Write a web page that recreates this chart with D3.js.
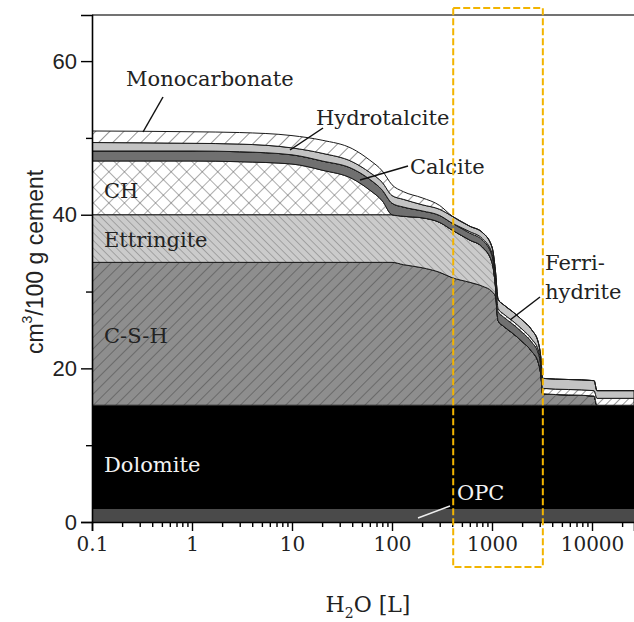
<!DOCTYPE html>
<html><head><meta charset="utf-8">
<script src="https://cdn.jsdelivr.net/npm/d3@7"></script>
<style>body{margin:0;background:#fff}svg{display:block}</style>
</head><body><svg id="c" width="634" height="622"></svg>
<script>
// ---- data (cm3 / 100 g cement, per phase, vs. H2O [L]) ----
const water        = [0.1, 1, 3, 10, 20, 40, 60, 80, 100, 130, 200, 300, 400, 600, 800, 1000, 1080, 1150, 1300, 1600, 2000, 2500, 2900, 3100, 3200, 10500, 11200, 26300];
const opc          = [1.7,1.7,1.7,1.7,1.7,1.7,1.7,1.7,1.7,1.7,1.7,1.7,1.7,1.7,1.7,1.7,1.7,1.7,1.7,1.7,1.7,1.7,1.7,1.7,1.7,1.7,1.7,1.7];
const dolomite     = [13.5,13.5,13.5,13.5,13.5,13.5,13.5,13.5,13.5,13.5,13.5,13.5,13.5,13.5,13.5,13.5,13.5,13.5,13.5,13.5,13.5,13.5,13.5,13.5,13.5,13.5,13.5,13.5];
const csh          = [18.6,18.6,18.6,18.6,18.6,18.6,18.6,18.6,18.6,18.3,17.9,17.3,16.6,16.0,15.5,14.8,14.2,11.0,10.3,9.4,8.3,7.0,5.6,3.6,1.5,1.2,0,0];
const ettringite   = [6.2,6.2,6.2,6.2,6.2,6.2,6.2,6.2,6.2,6.3,6.5,6.5,6.2,5.5,5.1,3.8,1.4,0,0,0,0,0,0,0,0,0,0,0];
const ch           = [7.0,7.0,6.9,6.6,5.8,4.7,3.2,1.8,0,0,0,0,0,0,0,0,0,0,0,0,0,0,0,0,0,0,0,0];
const calcite      = [1.3,1.3,1.3,1.2,1.2,1.3,1.4,1.4,1.5,1.2,0.9,0.9,0.9,0.9,0.9,0.9,0.9,1.2,1.2,1.2,1.2,1.2,1.2,1.0,0,0,0,0];
const ferrihydrite = [0,0,0,0,0,0,0,0,0,0,0,0,0,0.2,0.2,0.3,0.3,0.4,0.4,0.4,0.4,0.4,0.4,0.4,0.7,0.7,0.9,0.9];
const hydrotalcite = [1.1,1.0,1.0,0.9,1.0,0.9,0.9,1.0,1.0,1.0,0.8,0.8,0.9,0.7,0.8,0.8,0.8,1.2,1.2,1.2,1.2,1.2,1.0,0.8,1.3,1.3,1.0,1.0];
const monocarb     = [1.5,1.5,1.5,1.6,1.7,1.7,1.6,1.5,1.4,1.0,0.9,0.5,0,0,0,0,0,0,0,0,0,0,0,0,0,0,0,0];
const phases = ["OPC","Dolomite","C-S-H","Ettringite","CH","Calcite","Ferrihydrite","Hydrotalcite","Monocarbonate"];
const xTicks = [0.1, 1, 10, 100, 1000, 10000];
const xTickLabels = ["0.1","1","10","100","1000","10000"];
const yTicks = [0, 20, 40, 60];
const yMinorTicks = [10, 30, 50];

const series = {"OPC":opc,"Dolomite":dolomite,"C-S-H":csh,"Ettringite":ettringite,"CH":ch,
  "Calcite":calcite,"Ferrihydrite":ferrihydrite,"Hydrotalcite":hydrotalcite,"Monocarbonate":monocarb};
const table = water.map((L,i)=>{const o={L}; phases.forEach(p=>o[p]=series[p][i]); return o;});

const svg = d3.select("#c");
const X0=92, X1=634, Y0=522, Y1=15;
const x = d3.scaleLog().domain([0.1, 26300]).range([X0, X1]);
const y = d3.scaleLinear().domain([0, 66]).range([Y0, Y1]);

const defs = svg.append("defs");
function hatch(id, bg, color, spacing, angle, w){
  const p = defs.append("pattern").attr("id",id).attr("patternUnits","userSpaceOnUse")
    .attr("width",spacing).attr("height",spacing).attr("patternTransform",`rotate(${angle})`);
  p.append("rect").attr("width",spacing).attr("height",spacing).attr("fill",bg);
  p.append("line").attr("x1",0).attr("y1",0).attr("x2",0).attr("y2",spacing).attr("stroke",color).attr("stroke-width",w);
}
hatch("pCSH","#8e8e8e","#4c4c4c",8,45,1.1);
hatch("pEtt","#cbcbcb","#767676",5.5,-45,1);
hatch("pMono","#ffffff","#2a2a2a",10,45,1);
hatch("pFerri","#ffffff","#555555",6,45,1.2);
// crosshatch for CH
(function(){
  const s=11;
  const p = defs.append("pattern").attr("id","pCH").attr("patternUnits","userSpaceOnUse")
    .attr("width",s).attr("height",s).attr("patternTransform","rotate(45)");
  p.append("rect").attr("width",s).attr("height",s).attr("fill","#fff");
  p.append("line").attr("x1",0).attr("y1",0).attr("x2",0).attr("y2",s).attr("stroke","#5a5a5a").attr("stroke-width",1);
  p.append("line").attr("x1",0).attr("y1",0).attr("x2",s).attr("y2",0).attr("stroke","#5a5a5a").attr("stroke-width",1);
})();
const fills = {"OPC":"#4a4a4a","Dolomite":"#000","C-S-H":"url(#pCSH)","Ettringite":"url(#pEtt)","CH":"url(#pCH)",
  "Calcite":"#707070","Ferrihydrite":"url(#pFerri)","Hydrotalcite":"#c3c3c3","Monocarbonate":"url(#pMono)"};

defs.append("clipPath").attr("id","clip").append("rect").attr("x",X0).attr("y",Y1).attr("width",X1-X0).attr("height",Y0-Y1);

const stack = d3.stack().keys(phases)(table);
const area = d3.area().x(d=>x(d.data.L)).y0(d=>y(d[0])).y1(d=>y(d[1])).curve(d3.curveMonotoneX);

const g = svg.append("g").attr("clip-path","url(#clip)");
stack.forEach(s=>{
  g.append("path").attr("d",area(s)).attr("fill",fills[s.key])
   .attr("stroke", (s.key==="OPC"||s.key==="Dolomite")?"none":"#1a1a1a").attr("stroke-width",1);
});

// frame top
svg.append("line").attr("x1",X0).attr("x2",X1).attr("y1",Y1).attr("y2",Y1).attr("stroke","#444").attr("stroke-width",1.5);

// axes
const xAxis = d3.axisBottom(x).tickValues(xTicks).tickFormat((d,i)=>xTickLabels[i]).tickSize(9).tickPadding(6);
const xMinor = [];
for (let e=-1;e<=4;e++) for (let k=2;k<=9;k++){const v=k*Math.pow(10,e); if(v<26300) xMinor.push(v);}
const gx = svg.append("g").attr("transform",`translate(0,${Y0})`);
gx.append("g").call(d3.axisBottom(x).tickValues(xMinor).tickFormat("").tickSize(5))
  .call(a=>a.select(".domain").remove());
gx.append("g").call(xAxis);
gx.selectAll("line").attr("stroke","#000").attr("stroke-width",1.4);
gx.selectAll(".domain").attr("stroke","#000").attr("stroke-width",1.6);
gx.selectAll("text").attr("font-family","DejaVu Serif").attr("font-size",20).attr("fill","#222");

const gy = svg.append("g").attr("transform",`translate(${X0},0)`);
gy.append("g").call(d3.axisLeft(y).tickValues(yMinorTicks).tickFormat("").tickSize(6)).call(a=>a.select(".domain").remove());
gy.append("g").call(d3.axisLeft(y).tickValues(yTicks).tickSize(11).tickPadding(4));
gy.selectAll("line").attr("stroke","#000").attr("stroke-width",1.4);
gy.selectAll(".domain").attr("stroke","#000").attr("stroke-width",1.6);
gy.selectAll("text").attr("font-family","Liberation Sans").attr("font-size",22).attr("fill","#222");

// axis titles
const yt = svg.append("text").attr("transform","translate(43,262) rotate(-90)").attr("text-anchor","middle")
  .attr("font-family","Liberation Sans").attr("font-size",23).attr("fill","#222");
yt.append("tspan").text("cm");
yt.append("tspan").attr("font-size",14).attr("dy",-11).text("3");
yt.append("tspan").attr("dy",11).text("/100 g cement");

const xt = svg.append("text").attr("x",368).attr("y",612).attr("text-anchor","middle")
  .attr("font-family","DejaVu Serif").attr("font-size",22).attr("fill","#222");
xt.append("tspan").text("H");
xt.append("tspan").attr("font-size",14).attr("dy",6).text("2");
xt.append("tspan").attr("dy",-6).text("O [L]");

// annotations
const ann = [
  {t:"Monocarbonate",x:126,y:86,c:"#222"},
  {t:"Hydrotalcite",x:316,y:125,c:"#222"},
  {t:"Calcite",x:410,y:174,c:"#222"},
  {t:"Ferri-",x:545,y:270,c:"#222"},
  {t:"hydrite",x:545,y:299,c:"#222"},
  {t:"CH",x:104,y:198,c:"#222"},
  {t:"Ettringite",x:104,y:247,c:"#222"},
  {t:"C-S-H",x:104,y:343,c:"#222"},
  {t:"Dolomite",x:104,y:472,c:"#f2f2f2"},
  {t:"OPC",x:457,y:500,c:"#f2f2f2"}
];
svg.selectAll("text.ann").data(ann).enter().append("text").attr("class","ann")
  .attr("x",d=>d.x).attr("y",d=>d.y).attr("fill",d=>d.c)
  .attr("font-family","DejaVu Serif").attr("font-size",21).text(d=>d.t);
const ptr = [
  {x1:163,y1:97,x2:143,y2:132,c:"#111"},
  {x1:323,y1:128,x2:290,y2:150,c:"#111"},
  {x1:408,y1:166,x2:360,y2:180,c:"#111"},
  {x1:540,y1:297,x2:510,y2:320,c:"#111"},
  {x1:450,y1:506,x2:418,y2:518,c:"#eee"}
];
svg.selectAll("line.ptr").data(ptr).enter().append("line").attr("class","ptr")
  .attr("x1",d=>d.x1).attr("y1",d=>d.y1).attr("x2",d=>d.x2).attr("y2",d=>d.y2)
  .attr("stroke",d=>d.c).attr("stroke-width",1.5);

// highlight box
svg.append("rect").attr("x",x(400)+1).attr("y",8).attr("width",x(3150)-x(400)).attr("height",559)
  .attr("fill","none").attr("stroke","#f2b400").attr("stroke-width",2).attr("stroke-dasharray","7,3");
</script></body></html>
